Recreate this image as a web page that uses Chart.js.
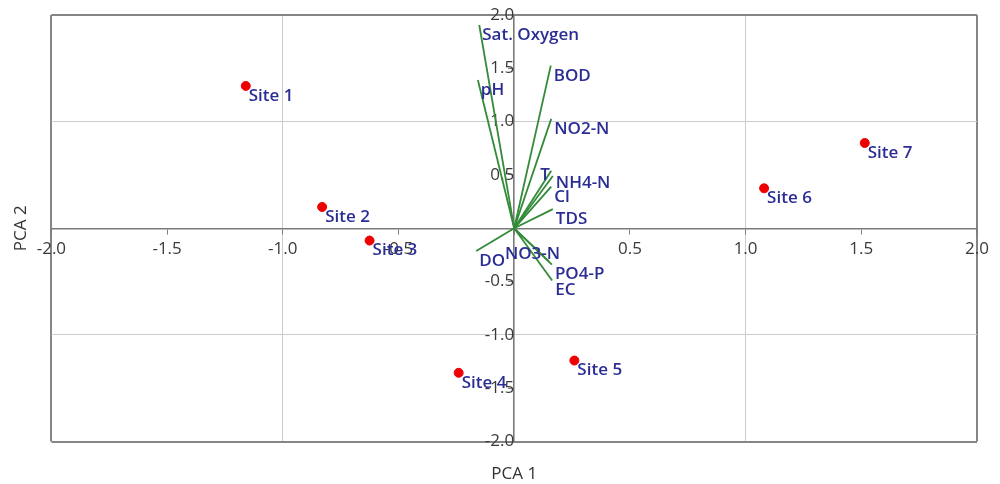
<!DOCTYPE html>
<html>
<head>
<meta charset="utf-8">
<script src="https://cdn.jsdelivr.net/npm/chart.js@4/dist/chart.umd.min.js"></script>
<style>
  html, body { margin: 0; padding: 0; background: #fff; }
  #wrap { width: 1000px; height: 484px; position: relative; }
</style>
</head>
<body>
<div id="wrap"><canvas id="pcaChart"></canvas></div>
<script>
// sample sites (scores)
const siteNames = ['Site 1', 'Site 2', 'Site 3', 'Site 4', 'Site 5', 'Site 6', 'Site 7'];
const siteX = [-1.16, -0.83, -0.625, -0.24, 0.26, 1.08, 1.515];
const siteY = [1.335, 0.20, -0.115, -1.355, -1.24, 0.375, 0.80];

// variables (loadings)
const varNames = ['Sat. Oxygen', 'pH', 'BOD', 'NO2-N', 'T', 'NH4-N', 'Cl', 'TDS', 'DO', 'NO3-N', 'PO4-P', 'EC'];
const varX = [-0.151, -0.157, 0.158, 0.160, 0.160, 0.167, 0.160, 0.167, -0.164, 0.150, 0.163, 0.164];
const varY = [1.906, 1.391, 1.525, 1.026, 0.540, 0.490, 0.390, 0.180, -0.213, -0.310, -0.340, -0.490];

const axisTicks = [-2, -1.5, -1, -0.5, 0, 0.5, 1, 1.5, 2];

const labelColor = '#2b2d94';
const labelFont = '600 17px "Open Sans"';
// a couple of labels sit away from their arrow tip
const labelNudge = { 'T': [-14, -6], 'NO3-N': [-47, -17], 'NH4-N': [0, -3] };

const pointLabels = {
    id: 'pointLabels',
    afterDatasetsDraw(chart) {
        const ctx = chart.ctx;
        ctx.save();
        ctx.font = labelFont;
        ctx.fillStyle = labelColor;
        ctx.textAlign = 'left';
        ctx.textBaseline = 'middle';
        chart.getDatasetMeta(0).data.forEach((pt, i) => {
            ctx.fillText(siteNames[i], pt.x + 3, pt.y + 10);
        });
        varNames.forEach((name, i) => {
            const pt = chart.getDatasetMeta(i + 1).data[1];
            const n = labelNudge[name] || [0, 0];
            ctx.fillText(name, pt.x + 3 + n[0], pt.y + 10 + n[1]);
        });
        ctx.restore();
    }
};

function gridColor(c) {
    const v = c.tick.value;
    if (Math.abs(v) === 2) return '#858585';
    if (Math.abs(v) === 1) return '#cccccc';
    return 'rgba(0,0,0,0)';
}
function gridWidth(c) {
    return Math.abs(c.tick.value) === 2 ? 2 : 1;
}

const datasets = [{
    label: 'Sites',
    data: siteX.map((x, i) => ({ x: x, y: siteY[i] })),
    backgroundColor: '#ee0000',
    borderColor: '#ee0000',
    pointRadius: 4.5,
    showLine: false
}];
varNames.forEach((name, i) => {
    datasets.push({
        label: name,
        data: [{ x: 0, y: 0 }, { x: varX[i], y: varY[i] }],
        borderColor: '#338a38',
        borderWidth: 1.8,
        pointRadius: 0,
        showLine: true
    });
});

const tickOpts = {
    stepSize: 0.5,
    color: '#3a3a3a',
    font: { family: 'Open Sans', size: 17 },
    autoSkip: false,
    maxRotation: 0,
    callback: v => (v === 0 ? '' : v.toFixed(1))
};

new Chart(document.getElementById('pcaChart'), {
    type: 'scatter',
    data: { datasets: datasets },
    options: {
        responsive: true,
        maintainAspectRatio: false,
        animation: false,
        layout: { padding: { top: 15, right: 23, bottom: 0, left: 0 } },
        plugins: {
            legend: { display: false },
            tooltip: { enabled: false },
            title: {
                display: true,
                text: 'PCA 1',
                position: 'bottom',
                fullSize: false,
                color: '#333',
                font: { family: 'Open Sans', size: 17, weight: 'normal' },
                padding: { top: 22, bottom: 0 }
            },
            subtitle: {
                display: true,
                text: 'PCA 2',
                position: 'left',
                fullSize: false,
                color: '#333',
                font: { family: 'Open Sans', size: 17, weight: 'normal' },
                padding: { top: 11, bottom: 20 }
            }
        },
        scales: {
            x: {
                type: 'linear',
                min: -2, max: 2,
                position: { y: 0 },
                afterBuildTicks: s => { s.ticks = axisTicks.map(v => ({ value: v })); },
                ticks: Object.assign({}, tickOpts, { padding: 6 }),
                grid: { color: gridColor, lineWidth: gridWidth, tickColor: '#808080', tickLength: 5 },
                border: { color: '#7a7a7a', width: 1.6 }
            },
            y: {
                type: 'linear',
                min: -2, max: 2,
                position: { x: 0 },
                afterBuildTicks: s => { s.ticks = axisTicks.map(v => ({ value: v })); },
                ticks: Object.assign({}, tickOpts, { padding: 2 }),
                grid: { color: gridColor, lineWidth: gridWidth, tickColor: '#808080', tickLength: 5 },
                border: { color: '#7a7a7a', width: 1.6 }
            }
        }
    },
    plugins: [pointLabels]
});
</script>
</body>
</html>
